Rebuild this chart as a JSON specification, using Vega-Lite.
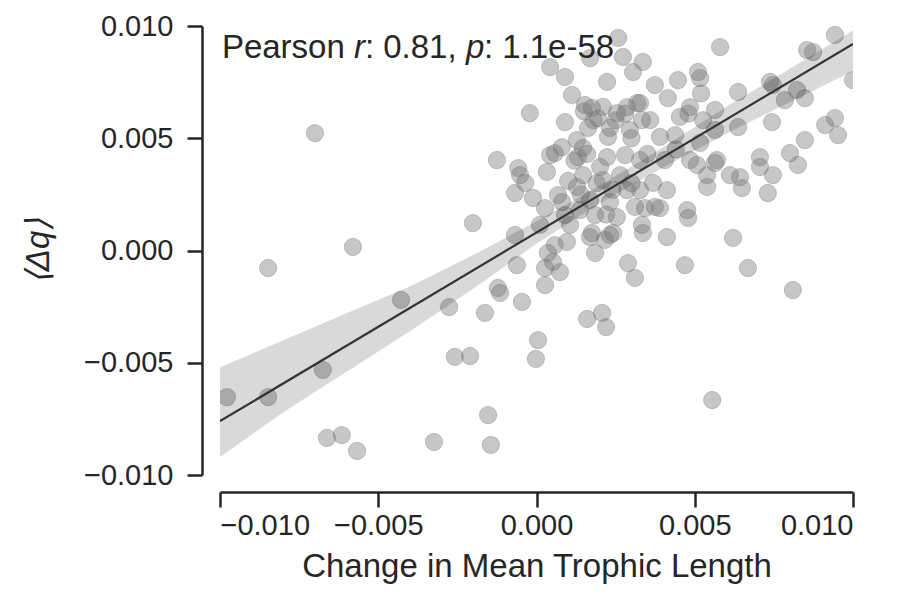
{
  "$schema": "https://vega.github.io/schema/vega-lite/v6.json",
  "width": 633,
  "height": 449,
  "autosize": {"type": "none"},
  "padding": {"left": 220, "top": 26, "right": 46, "bottom": 123},
  "background": "white",
  "datasets": {
    "pts": [
      {"dTL":-0.00978,"dq":-0.00653},{"dTL":-0.00848,"dq":-0.00078},{"dTL":-0.00848,"dq":-0.00653},{"dTL":-0.00700,"dq":0.00523},
      {"dTL":-0.00675,"dq":-0.00532},{"dTL":-0.00580,"dq":0.00016},{"dTL":-0.00662,"dq":-0.00835},{"dTL":-0.00615,"dq":-0.00822},
      {"dTL":-0.00567,"dq":-0.00893},{"dTL":-0.00428,"dq":-0.00220},{"dTL":-0.00324,"dq":-0.00853},{"dTL":-0.00276,"dq":-0.00252},
      {"dTL":-0.00258,"dq":-0.00474},{"dTL":-0.00210,"dq":-0.00470},{"dTL":-0.00163,"dq":-0.00278},{"dTL":-0.00153,"dq":-0.00733},
      {"dTL":-0.00144,"dq":-0.00866},{"dTL":-0.00122,"dq":-0.00167},{"dTL":-0.00115,"dq":-0.00189},{"dTL":-0.00201,"dq":0.00122},
      {"dTL":-0.00046,"dq":-0.00229},{"dTL":0.00027,"dq":-0.00154},{"dTL":0.00311,"dq":-0.00122},{"dTL":0.00005,"dq":-0.00399},
      {"dTL":-0.00002,"dq":-0.00483},{"dTL":0.00160,"dq":-0.00305},{"dTL":0.00207,"dq":-0.00278},{"dTL":0.00220,"dq":-0.00341},
      {"dTL":-0.00062,"dq":-0.00065},{"dTL":0.00036,"dq":-0.00011},{"dTL":0.00052,"dq":-0.00051},{"dTL":0.00027,"dq":-0.00078},
      {"dTL":0.00058,"dq":0.00024},{"dTL":0.00185,"dq":-0.00011},{"dTL":0.00169,"dq":0.00060},{"dTL":0.00232,"dq":0.00069},
      {"dTL":0.00289,"dq":-0.00056},{"dTL":0.00336,"dq":0.00078},{"dTL":0.00412,"dq":0.00060},{"dTL":0.00469,"dq":-0.00065},
      {"dTL":0.00621,"dq":0.00056},{"dTL":0.00668,"dq":-0.00078},{"dTL":0.00810,"dq":-0.00176},{"dTL":0.00555,"dq":-0.00666},
      {"dTL":0.00476,"dq":0.00180},{"dTL":0.00479,"dq":0.00145},{"dTL":0.00327,"dq":0.00269},{"dTL":0.00412,"dq":0.00269},
      {"dTL":0.00390,"dq":0.00189},{"dTL":0.00343,"dq":0.00189},{"dTL":0.00507,"dq":0.00381},{"dTL":0.00539,"dq":0.00336},
      {"dTL":0.00539,"dq":0.00283},{"dTL":0.00564,"dq":0.00390},{"dTL":0.00643,"dq":0.00327},{"dTL":0.00649,"dq":0.00278},
      {"dTL":0.00611,"dq":0.00336},{"dTL":0.00706,"dq":0.00416},{"dTL":0.00706,"dq":0.00372},{"dTL":0.00747,"dq":0.00336},
      {"dTL":0.00731,"dq":0.00256},{"dTL":0.00801,"dq":0.00434},{"dTL":0.00826,"dq":0.00381},{"dTL":0.00580,"dq":0.00906},
      {"dTL":0.00943,"dq":0.00960},{"dTL":0.00855,"dq":0.00893},{"dTL":0.00874,"dq":0.00884},{"dTL":0.01000,"dq":0.00759},
      {"dTL":0.00374,"dq":0.00737},{"dTL":0.00447,"dq":0.00759},{"dTL":0.00510,"dq":0.00795},{"dTL":0.00517,"dq":0.00768},
      {"dTL":0.00336,"dq":0.00840},{"dTL":0.00327,"dq":0.00657},{"dTL":0.00415,"dq":0.00679},{"dTL":0.00485,"dq":0.00639},
      {"dTL":0.00564,"dq":0.00626},{"dTL":0.00453,"dq":0.00595},{"dTL":0.00526,"dq":0.00581},{"dTL":0.00637,"dq":0.00706},
      {"dTL":0.00738,"dq":0.00751},{"dTL":0.00747,"dq":0.00737},{"dTL":0.00785,"dq":0.00670},{"dTL":0.00823,"dq":0.00715},
      {"dTL":0.00848,"dq":0.00679},{"dTL":0.00637,"dq":0.00550},{"dTL":0.00744,"dq":0.00572},{"dTL":0.00912,"dq":0.00559},
      {"dTL":0.00943,"dq":0.00590},{"dTL":0.00953,"dq":0.00514},{"dTL":0.00848,"dq":0.00492},{"dTL":0.00390,"dq":0.00506},
      {"dTL":0.00359,"dq":0.00581},{"dTL":0.00564,"dq":0.00537},{"dTL":0.00517,"dq":0.00479},{"dTL":0.00485,"dq":0.00403},
      {"dTL":0.00570,"dq":0.00403},{"dTL":0.00043,"dq":0.00817},{"dTL":0.00090,"dq":0.00773},{"dTL":0.00112,"dq":0.00693},
      {"dTL":-0.00021,"dq":0.00612},{"dTL":0.00090,"dq":0.00572},{"dTL":0.00175,"dq":0.00635},{"dTL":0.00223,"dq":0.00751},
      {"dTL":0.00169,"dq":0.00857},{"dTL":0.00273,"dq":0.00862},{"dTL":0.00305,"dq":0.00795},{"dTL":0.00254,"dq":0.00612},
      {"dTL":0.00286,"dq":0.00639},{"dTL":0.00318,"dq":0.00657},{"dTL":0.00333,"dq":0.00581},{"dTL":0.00295,"dq":0.00537},
      {"dTL":0.00226,"dq":0.00506},{"dTL":0.00147,"dq":0.00457},{"dTL":0.00128,"dq":0.00492},{"dTL":0.00058,"dq":0.00434},
      {"dTL":-0.00125,"dq":0.00403},{"dTL":-0.00058,"dq":0.00367},{"dTL":0.00258,"dq":0.00947},{"dTL":-0.00052,"dq":0.00336},
      {"dTL":-0.00068,"dq":0.00256},{"dTL":-0.00036,"dq":0.00301},{"dTL":-0.00011,"dq":0.00234},{"dTL":0.00033,"dq":0.00350},
      {"dTL":0.00043,"dq":0.00425},{"dTL":0.00027,"dq":0.00189},{"dTL":0.00068,"dq":0.00247},{"dTL":0.00081,"dq":0.00216},
      {"dTL":-0.00068,"dq":0.00069},{"dTL":0.00096,"dq":0.00038},{"dTL":0.00106,"dq":0.00114},{"dTL":0.00131,"dq":0.00416},
      {"dTL":0.00147,"dq":0.00336},{"dTL":0.00128,"dq":0.00283},{"dTL":0.00175,"dq":0.00078},{"dTL":0.00223,"dq":0.00416},
      {"dTL":0.00201,"dq":0.00372},{"dTL":0.00210,"dq":0.00314},{"dTL":0.00232,"dq":0.00216},{"dTL":0.00254,"dq":0.00149},
      {"dTL":0.00242,"dq":0.00078},{"dTL":0.00286,"dq":0.00269},{"dTL":0.00311,"dq":0.00194},{"dTL":0.00333,"dq":0.00114},
      {"dTL":0.00368,"dq":0.00301},{"dTL":0.00374,"dq":0.00194},{"dTL":0.00074,"dq":-0.00096},{"dTL":0.00153,"dq":0.00648},
      {"dTL":0.00194,"dq":0.00590},{"dTL":0.00232,"dq":0.00546},{"dTL":0.00163,"dq":0.00546},{"dTL":0.00169,"dq":0.00225},
      {"dTL":0.00137,"dq":0.00180},{"dTL":0.00185,"dq":0.00158},{"dTL":0.00280,"dq":0.00425},{"dTL":0.00327,"dq":0.00403},
      {"dTL":0.00406,"dq":0.00403},{"dTL":0.00438,"dq":0.00514},{"dTL":0.00264,"dq":0.00336},{"dTL":0.00090,"dq":0.00158},
      {"dTL":0.00011,"dq":0.00114},{"dTL":0.00216,"dq":0.00047},
      {"dTL":0.00150,"dq":0.00620},{"dTL":0.00180,"dq":0.00580},{"dTL":0.00210,"dq":0.00640},{"dTL":0.00250,"dq":0.00580},
      {"dTL":0.00280,"dq":0.00610},{"dTL":0.00300,"dq":0.00500},{"dTL":0.00120,"dq":0.00400},{"dTL":0.00160,"dq":0.00430},
      {"dTL":0.00190,"dq":0.00300},{"dTL":0.00240,"dq":0.00270},{"dTL":0.00100,"dq":0.00310},{"dTL":0.00140,"dq":0.00250},
      {"dTL":0.00300,"dq":0.00300},{"dTL":0.00350,"dq":0.00430},{"dTL":0.00440,"dq":0.00450},{"dTL":0.00480,"dq":0.00610},
      {"dTL":0.00520,"dq":0.00700},{"dTL":0.00080,"dq":0.00460},{"dTL":0.00220,"dq":0.00160}
    ],
    "band": [
      {"bx":-0.010,"lo":-0.0092,"hi":-0.0052},
      {"bx":-0.008,"lo":-0.0072,"hi":-0.0040},
      {"bx":-0.006,"lo":-0.0054,"hi":-0.0028},
      {"bx":-0.004,"lo":-0.0036,"hi":-0.0016},
      {"bx":-0.002,"lo":-0.0017,"hi":-0.0002},
      {"bx":0.000,"lo":0.0003,"hi":0.0013},
      {"bx":0.002,"lo":0.0021,"hi":0.0029},
      {"bx":0.004,"lo":0.0037,"hi":0.0046},
      {"bx":0.006,"lo":0.0052,"hi":0.0064},
      {"bx":0.008,"lo":0.0066,"hi":0.0081},
      {"bx":0.010,"lo":0.0080,"hi":0.0098}
    ],
    "fit": [
      {"lx":-0.010,"ly":-0.0076},
      {"lx":0.010,"ly":0.0092}
    ],
    "note": [
      {"tx":-0.00994,"ty":0.00857}
    ]
  },
  "layer": [
    {
      "data": {"name": "pts"},
      "mark": {"type": "circle", "size": 300, "color": "#737373", "fillOpacity": 0.4, "stroke": "#737373", "strokeOpacity": 0.35, "strokeWidth": 1, "clip": true},
      "encoding": {
        "x": {"field": "dTL", "type": "quantitative",
              "scale": {"domain": [-0.01, 0.01], "nice": false, "zero": false},
              "axis": {"values": [-0.01, -0.005, 0, 0.005, 0.01], "format": ".3f", "offset": 17,
                       "title": "Change in Mean Trophic Length", "labelPadding": 4, "titlePadding": 10}},
        "y": {"field": "dq", "type": "quantitative",
              "scale": {"domain": [-0.01, 0.01], "nice": false, "zero": false},
              "axis": {"values": [-0.01, -0.005, 0, 0.005, 0.01], "format": ".3f", "offset": 18,
                       "title": "⟨Δq⟩", "titleFontStyle": "italic", "labelPadding": 14, "titlePadding": 28}}
      }
    },
    {
      "data": {"name": "band"},
      "mark": {"type": "area", "color": "#000000", "opacity": 0.15, "clip": true},
      "encoding": {
        "x": {"field": "bx", "type": "quantitative"},
        "y": {"field": "lo", "type": "quantitative"},
        "y2": {"field": "hi"}
      }
    },
    {
      "data": {"name": "fit"},
      "mark": {"type": "line", "color": "#333333", "strokeWidth": 2.2, "clip": true},
      "encoding": {
        "x": {"field": "lx", "type": "quantitative"},
        "y": {"field": "ly", "type": "quantitative"}
      }
    },
    {
      "data": {"name": "note"},
      "mark": {"type": "text", "align": "left", "baseline": "alphabetic", "font": "Liberation Sans", "fontSize": 33, "color": "#262626", "text": "Pearson "},
      "encoding": {"x": {"field": "tx", "type": "quantitative"}, "y": {"field": "ty", "type": "quantitative"}}
    },
    {
      "data": {"name": "note"},
      "mark": {"type": "text", "align": "left", "baseline": "alphabetic", "font": "Liberation Sans", "fontSize": 33, "fontStyle": "italic", "color": "#262626", "text": "r", "dx": 132},
      "encoding": {"x": {"field": "tx", "type": "quantitative"}, "y": {"field": "ty", "type": "quantitative"}}
    },
    {
      "data": {"name": "note"},
      "mark": {"type": "text", "align": "left", "baseline": "alphabetic", "font": "Liberation Sans", "fontSize": 33, "color": "#262626", "text": ": 0.81, ", "dx": 143},
      "encoding": {"x": {"field": "tx", "type": "quantitative"}, "y": {"field": "ty", "type": "quantitative"}}
    },
    {
      "data": {"name": "note"},
      "mark": {"type": "text", "align": "left", "baseline": "alphabetic", "font": "Liberation Sans", "fontSize": 33, "fontStyle": "italic", "color": "#262626", "text": "p", "dx": 244},
      "encoding": {"x": {"field": "tx", "type": "quantitative"}, "y": {"field": "ty", "type": "quantitative"}}
    },
    {
      "data": {"name": "note"},
      "mark": {"type": "text", "align": "left", "baseline": "alphabetic", "font": "Liberation Sans", "fontSize": 33, "color": "#262626", "text": ": 1.1e-58", "dx": 262},
      "encoding": {"x": {"field": "tx", "type": "quantitative"}, "y": {"field": "ty", "type": "quantitative"}}
    }
  ],
  "config": {
    "view": {"stroke": null},
    "axis": {
      "grid": false,
      "domainColor": "#262626", "domainWidth": 2.5,
      "tickColor": "#262626", "tickWidth": 2.5, "tickSize": 15,
      "labelFont": "Liberation Sans", "labelFontSize": 29, "labelColor": "#262626",
      "titleFont": "Liberation Sans", "titleFontSize": 33, "titleFontWeight": "normal", "titleColor": "#262626"
    }
  }
}
